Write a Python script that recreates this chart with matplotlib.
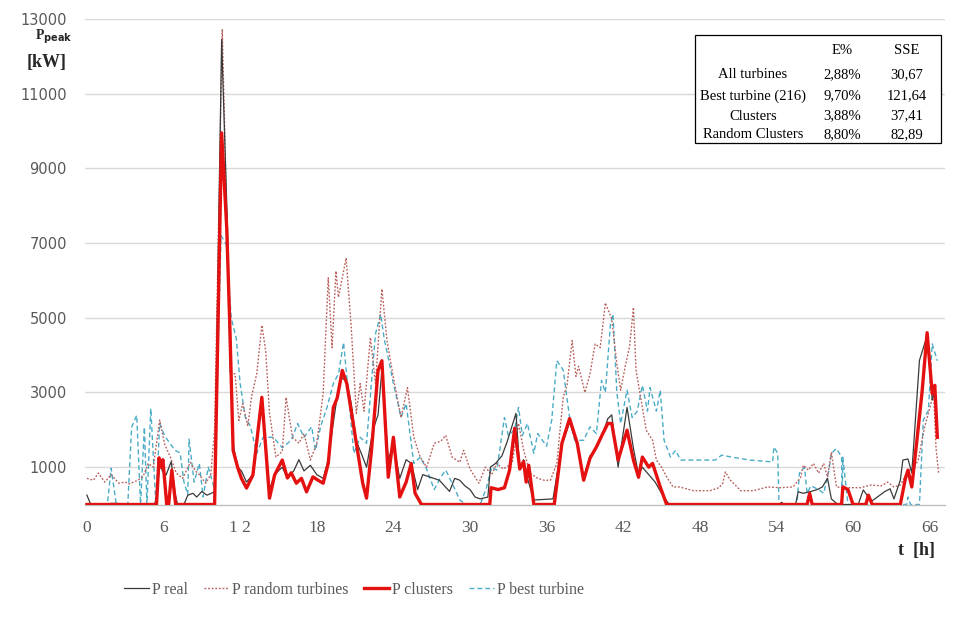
import matplotlib
matplotlib.use("Agg")
import matplotlib.pyplot as plt
from matplotlib.patches import Rectangle

# ---------------- data ----------------
real_t = [0, 0.3, 2.0, 5.3, 5.5, 5.7, 5.9, 6.2, 6.6, 6.9, 7.1, 7.6, 7.9, 8.3, 8.6, 9.0, 9.4, 10.0,
          10.55, 11.0, 11.2, 11.45, 11.8, 12.1, 12.5, 13.0, 13.7, 14.3, 14.7, 15.3, 15.7, 16.2, 16.6,
          17.0, 17.5, 18.0, 18.5, 18.9, 19.3, 19.6, 19.9, 20.35, 20.7, 21.1, 21.6, 21.9, 22.4, 22.8,
          23.1, 23.6, 24.0, 24.5, 25.0, 25.4, 25.9, 26.3, 26.9, 27.6, 28.0, 28.4, 28.8, 29.2, 29.6,
          30.0, 30.4, 30.8, 31.4, 31.6, 32.0, 32.5, 32.9, 33.2, 33.6, 33.9, 34.2, 34.5, 35.0, 36.5,
          37.2, 37.8, 38.4, 38.9, 39.4, 39.9, 40.4, 40.8, 41.1, 41.6, 42.3, 42.8, 43.2, 43.5, 44.0,
          44.5, 45.0, 45.6, 54.2, 54.4, 54.6, 55.5, 55.7, 56.1, 56.6, 57.2, 57.6, 58.0, 58.3, 58.8,
          60.4, 60.8, 61.2, 61.5, 62.1, 62.5, 62.9, 63.2, 63.7, 63.9, 64.3, 64.6, 65.2, 65.6, 65.8,
          66.2, 66.4, 66.6]
real_v = [250, 0, 30, 0, 300, 1200, 900, 790, 1150, 300, 0, 0, 250, 300, 200, 350, 250, 340,
          12450, 7500, 4000, 1600, 1000, 900, 600, 800, 2800, 400, 800, 1000, 700, 900, 1200,
          900, 1050, 800, 700, 1200, 2200, 2900, 3400, 3300, 2700, 1700, 1270, 1000, 2000, 2400,
          3600, 1200, 1600, 700, 1200, 1100, 400, 800, 730, 650, 500, 350, 700, 650, 500,
          400, 200, 150, 200, 1000, 1100, 1300, 1670, 2000, 2440, 950, 1200, 700, 120, 150,
          1600, 2200, 1600, 700, 1300, 1500, 1900, 2300, 2400, 1000, 2600, 1500, 800, 1000, 800,
          600, 300, 0, 0, 60, 0, 0, 340, 300, 340, 400, 470, 700, 150, 0,
          0, 390, 200, 100, 250, 350, 420, 150, 650, 1190, 1220, 850, 3860, 4300, 4500,
          2800, 3000, 1800]

clus_t = [0, 5.45, 5.65, 5.8, 5.95, 6.25, 6.4, 6.65, 6.95, 10.0, 10.55, 10.95, 11.2, 11.45, 11.8,
          12.1, 12.5, 13.0, 13.7, 14.3, 14.7, 15.3, 15.7, 16.0, 16.4, 16.8, 17.2, 17.7, 18.1, 18.5,
          18.9, 19.3, 19.6, 20.0, 20.35, 20.7, 21.1, 21.6, 21.9, 22.3, 22.8, 23.1, 23.6, 24.0, 24.5,
          25.0, 25.4, 25.7, 26.2, 31.55, 31.65, 32.2, 32.7, 33.1, 33.5, 33.9, 34.2, 34.4, 34.6, 35.0,
          36.6, 37.2, 37.8, 38.4, 38.9, 39.4, 39.9, 40.4, 40.8, 41.1, 41.6, 42.3, 42.8, 43.2, 43.5,
          44.0, 44.3, 44.9, 45.4, 56.4, 56.6, 56.8, 59.1, 59.2, 59.6, 60.0, 61.0, 61.2, 61.5, 63.7,
          64.1, 64.3, 64.6, 65.0, 65.4, 65.8, 66.2, 66.4, 66.6]
clus_v = [0, 0, 1250, 1000, 1200, 0, 0, 920, 0, 0, 9950, 7400, 4700, 1450, 1000,
          700, 440, 790, 2870, 170, 790, 1190, 710, 850, 570, 700, 340, 740, 650, 570,
          1100, 2600, 2850, 3590, 3240, 2500, 1640, 570, 170, 1500, 3590, 3850, 730, 1800, 200,
          600, 1100, 300, 0, 0, 450, 400, 450, 920, 2040, 950, 1150, 600, 1050, 0,
          0, 1640, 2300, 1640, 650, 1240, 1540, 1900, 2170, 2170, 1190, 1990, 1190, 730, 1270,
          1000, 1100, 470, 0, 0, 300, 0, 0, 470, 400, 0, 0, 250, 0, 0,
          700, 920, 470, 1720, 3000, 4600, 2970, 3190, 1800]

rand_t = [0, 0.5, 0.9, 1.4, 1.9, 2.5, 3.0, 3.3, 4.0, 4.4, 4.8, 5.2, 5.7, 6.1, 6.5, 7.0, 7.5, 8.1,
          8.5, 8.8, 9.3, 9.7, 10.0, 10.6, 11.0, 11.2, 11.6, 11.9, 12.2, 12.6, 12.9, 13.3, 13.7, 14.0,
          14.3, 14.8, 15.3, 15.6, 16.1, 16.6, 17.0, 17.5, 18.0, 18.5, 18.9, 19.2, 19.5, 19.7, 20.3,
          20.7, 21.1, 21.4, 21.7, 22.2, 22.6, 23.1, 23.5, 24.0, 24.6, 25.1, 25.6, 26.1, 26.6, 27.2,
          27.7, 28.1, 28.6, 29.2, 29.5, 30.0, 30.7, 31.2, 31.7, 32.1, 32.6, 33.3, 33.8, 34.2, 34.7,
          35.3, 35.8, 36.3, 36.8, 37.3, 37.6, 38.0, 38.3, 38.5, 39.0, 39.4, 39.8, 40.2, 40.6, 41.1,
          41.5, 41.8, 42.2, 42.5, 42.8, 43.0, 43.3, 43.8, 44.3, 44.6, 45.0, 45.4, 45.9, 46.4, 47.5,
          48.8, 49.5, 49.8, 50.0, 50.4, 51.2, 52.2, 53.3, 54.3, 55.3, 55.9, 56.1, 56.5, 56.9, 57.3,
          57.7, 58.0, 58.3, 58.7, 59.3, 60.6, 61.4, 62.2, 62.7, 63.2, 63.7, 64.3, 64.8, 65.1, 65.6,
          66.1, 66.3, 66.5, 66.7]
rand_v = [700, 650, 840, 600, 800, 570, 600, 550, 650, 750, 1100, 1000, 2260, 1600, 1300, 840, 700, 1130,
          900, 800, 570, 800, 2000, 12730, 7000, 3500, 3500, 2250, 2700, 2100, 2900, 3500, 4800, 4120,
          2440, 1270, 1420, 2870, 1800, 1640, 1900, 1190, 1640, 2970, 6070, 4200, 6250, 5550, 6600,
          4730, 2440, 3240, 2500, 4470, 3240, 5770, 4390, 3400, 2330, 3130, 1800, 1270, 1000, 1640,
          1690, 1850, 1270, 1130, 1450, 950, 570, 1000, 800, 1100, 950, 1100, 2170, 1460, 840,
          700, 650, 650, 1100, 2870, 3200, 4390, 3430, 3700, 3000, 3500, 4300, 4200, 5400, 4970,
          3770, 3060, 3770, 4230, 5280, 3600, 2990, 1990, 1720, 1190, 1000, 740, 470, 470, 370,
          370, 450, 570, 870, 650, 370, 370, 470, 450, 470, 730, 1050, 920, 1100, 840,
          1100, 730, 1400, 470, 450, 450, 520, 500, 600, 470, 520, 900, 1000, 1190, 2070,
          2700, 3000, 1500, 840]

best_t = [0, 1.6, 1.9, 2.3, 3.2, 3.5, 3.9, 4.2, 4.5, 4.7, 5.0, 5.4, 5.7, 6.1, 6.5, 6.9, 7.3, 7.6,
          7.9, 8.0, 8.4, 8.8, 9.1, 9.5, 10.0, 10.5, 10.9, 11.3, 11.7, 12.0, 12.4, 12.8, 13.3, 13.8,
          14.6, 15.3, 16.0, 16.5, 17.0, 17.6, 17.9, 18.3, 18.8, 19.3, 19.7, 20.1, 20.6, 20.9, 21.4,
          21.9, 22.4, 22.6, 23.0, 23.3, 23.6, 24.0, 24.6, 25.0, 25.6, 26.1, 26.6, 27.2, 27.7, 28.1,
          28.7, 29.2, 29.7, 30.8, 31.3, 31.7, 32.1, 32.7, 33.0, 33.5, 33.8, 34.1, 34.5, 35.0, 35.3,
          36.0, 36.4, 36.8, 37.3, 37.8, 38.2, 38.9, 39.4, 39.9, 40.3, 40.6, 41.0, 41.2, 41.5, 41.8,
          42.3, 42.7, 43.1, 43.5, 43.9, 44.1, 44.6, 44.9, 45.2, 45.7, 46.1, 46.5, 49.2, 49.7, 50.5,
          51.4, 51.9, 53.7, 53.8, 54.1, 54.2, 55.6, 55.8, 56.2, 56.4, 56.7, 57.3, 57.7, 58.1, 58.3,
          58.7, 59.1, 59.15, 59.2, 59.6, 64.2, 64.3, 64.5, 65.2, 65.5, 65.9, 66.2, 66.6]
best_v = [0, 0, 970, 0, 0, 2070, 2390, 0, 2070, 0, 2570, 0, 2170, 1830, 1640, 1450, 1380, 600,
          270, 1750, 600, 1100, 200, 1000, 400, 7200, 6970, 5000, 4440, 3240, 2340, 2100, 1370, 1800,
          1800, 1520, 1720, 2170, 1800, 2080, 1450, 2080, 2600, 3240, 3500, 4340, 2520, 1370, 1800,
          1640, 3770, 4570, 5100, 4400, 3930, 3240, 2330, 2700, 1100, 1270, 950, 400, 730, 920,
          500, 120, 0, 0, 460, 1000, 920, 2330, 1850, 2000, 2600, 1850, 2170, 1370, 1900,
          1560, 2260, 3850, 3600, 2330, 1720, 1720, 2080, 1900, 3320, 3000, 4830, 5100, 3000, 2170,
          3060, 2330, 2500, 3190, 2500, 3130, 2500, 3060, 1720, 1270, 1450, 1190, 1190, 1320, 1270,
          1220, 1190, 1140, 1540, 1370, 0, 0, 840, 1000, 300, 500, 400, 300, 900, 1370,
          1500, 1270, 100, 1270, 0, 0, 200, 0, 0, 2260, 2520, 4300, 3850]

x_ticks = [0, 6, 12, 18, 24, 30, 36, 42, 48, 54, 60, 66]
x_tick_labels = ["0", "6", "1 2", "18", "24", "30", "36", "42", "48", "54", "60", "66"]
y_ticks = [1000, 3000, 5000, 7000, 9000, 11000, 13000]

table_cols = ["E%", "SSE"]
table_rows = ["All turbines", "Best turbine (216)", "Clusters", "Random Clusters"]
table_e = ["2,88%", "9,70%", "3,88%", "8,80%"]
table_sse = ["30,67", "121,64", "37,41", "82,89"]

# ---------------- figure ----------------
W, H = 964, 627
fig = plt.figure(figsize=(W / 100, H / 100), dpi=100)
ax_l, ax_r, ax_top, ax_bot = 85, 945, 19, 504.5
ax = fig.add_axes([ax_l / W, (H - ax_bot) / H, (ax_r - ax_l) / W, (ax_bot - ax_top) / H])

ax.plot(best_t, best_v, color="#4BACC6", lw=1.0, ls=(0, (3.5, 2.2)), label="P best turbine", zorder=2)
ax.plot(rand_t, rand_v, color="#B9605C", lw=1.0, ls=(0, (1.3, 1.3)), label="P random turbines", zorder=3)
ax.plot(real_t, real_v, color="#3A3A3A", lw=0.9, label="P real", zorder=4)
ax.plot(clus_t, clus_v, color="#E51010", lw=2.4, label="P clusters", zorder=5)

ax.set_xlim(-0.15, 67.2)
ax.set_ylim(0, 13000)
ax.set_yticks(y_ticks)
ax.set_yticklabels([str(v) for v in y_ticks], family="DejaVu Sans", fontsize=10.5, color="#595959")
ax.set_xticks(x_ticks)
ax.set_xticklabels(x_tick_labels, family="Liberation Serif", fontsize=12.5, color="#595959")
ax.tick_params(axis="both", length=0)
ax.tick_params(axis="y", pad=13)
ax.tick_params(axis="x", pad=11)
ax.grid(axis="y", color="#D9D9D9", lw=1.0)
ax.set_axisbelow(True)
for s in ["top", "right", "left"]:
    ax.spines[s].set_visible(False)
ax.spines["bottom"].set_color("#BFBFBF")
ax.spines["bottom"].set_linewidth(1.0)

# axis titles
fig.text(35 / W, 1 - 37 / H, r"P$_{\mathbf{peak}}$", family="Liberation Serif", fontsize=10,
         fontweight="bold", color="#262626", ha="left", va="center")
fig.text(47 / W, 1 - 63 / H, "[kW]", family="Liberation Serif", fontsize=13,
         fontweight="bold", color="#262626", ha="center", va="center")
fig.text(916 / W, 1 - 551 / H, "t  [h]", family="Liberation Serif", fontsize=13,
         fontweight="bold", color="#262626", ha="center", va="center")

# table
tx = ax.transAxes
def fx(px):
    return (px - ax_l) / (ax_r - ax_l)
def fy(py):
    return (ax_bot - py) / (ax_bot - ax_top)
ax.add_patch(Rectangle((fx(695), fy(143)), fx(941) - fx(695), fy(35) - fy(143),
                       transform=tx, fill=True, facecolor="white", edgecolor="black", lw=0.9, zorder=6))
col_x = [fx(753), fx(842), fx(907)]
row_y = [fy(75), fy(96), fy(116), fy(135)]
tkw = dict(family="Liberation Serif", fontsize=10.5, color="black", ha="center", va="center",
           transform=tx, zorder=7)
ax.text(col_x[1], fy(51), table_cols[0], **tkw)
ax.text(col_x[2], fy(51), table_cols[1], **tkw)
for i in range(len(table_rows)):
    ax.text(col_x[0], row_y[i], table_rows[i], **tkw)
    ax.text(col_x[1], row_y[i], table_e[i], **tkw)
    ax.text(col_x[2], row_y[i], table_sse[i], **tkw)

# legend
handles, labels = ax.get_legend_handles_labels()
order = ["P real", "P random turbines", "P clusters", "P best turbine"]
hmap = dict(zip(labels, handles))
leg = fig.legend([hmap[k] for k in order], order, loc="center", bbox_to_anchor=(354 / W, 1 - 590 / H),
                 ncol=4, frameon=False, handlelength=1.55, handletextpad=0.2, columnspacing=1.0,
                 prop={"family": "Liberation Serif", "size": 11.5})
for t in leg.get_texts():
    t.set_color("#595959")

fig.savefig("out.png", dpi=100)
